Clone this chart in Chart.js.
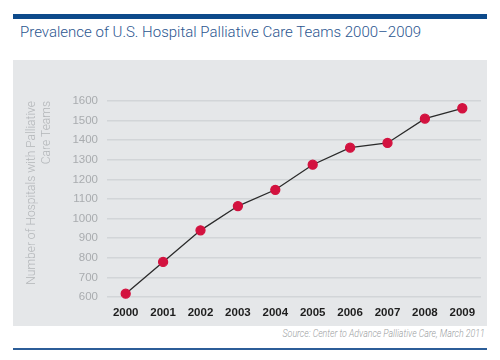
<!DOCTYPE html>
<html>
<head>
<meta charset="utf-8">
<script src="https://cdn.jsdelivr.net/npm/chart.js@4"></script>
<style>
    body { margin: 0; width: 500px; height: 360px; background: #fff; position: relative; overflow: hidden; }
    .topBar { position: absolute; left: 13px; top: 14px; width: 474px; height: 5px; background: #0d4a8b; }
    .title { position: absolute; left: 20px; top: 23px; font: 300 15px Roboto, sans-serif; color: #2b5690; white-space: nowrap; }
    .panel { position: absolute; left: 13px; top: 60px; width: 474px; height: 266px; background: #e5e7e9; }
    .source { position: absolute; right: 15px; top: 327px; font: italic 300 11px Roboto, sans-serif; color: #9a9da0; white-space: nowrap; transform: scaleX(0.8); transform-origin: right center; }
    .bottomLine { position: absolute; left: 13px; top: 348px; width: 474px; height: 2px; background: #2c5d98; }
</style>
</head>
<body>
<div class="topBar"></div>
<div class="title">Prevalence of U.S. Hospital Palliative Care Teams 2000–2009</div>
<div class="panel"><canvas id="prevalenceChart" width="474" height="266"></canvas></div>
<div class="source">Source: Center to Advance Palliative Care, March 2011</div>
<div class="bottomLine"></div>

<script>
const years = ['2000', '2001', '2002', '2003', '2004', '2005', '2006', '2007', '2008', '2009'];
const hospitals = [617, 779, 940, 1064, 1147, 1275, 1362, 1386, 1510, 1563];
const yTicks = [600, 700, 800, 900, 1000, 1100, 1200, 1300, 1400, 1500, 1600];
const yTitle = ['Number of Hospitals with Palliative', 'Care Teams'];

const tickFont = '"Liberation Sans", sans-serif';

const ctx = document.getElementById('prevalenceChart').getContext('2d');
new Chart(ctx, {
    type: 'line',
    data: {
        labels: years,
        datasets: [{
            data: hospitals,
            borderColor: '#2a2a2a',
            borderWidth: 1.3,
            pointBackgroundColor: '#d3123f',
            pointBorderColor: '#d3123f',
            pointRadius: 4.5,
            tension: 0,
            clip: false
        }]
    },
    options: {
        responsive: false,
        animation: false,
        layout: { padding: { top: 41, right: 6, left: 0, bottom: 0 } },
        plugins: { legend: { display: false }, tooltip: { enabled: false } },
        scales: {
            x: {
                offset: true,
                grid: { display: false, drawTicks: false },
                border: { display: false },
                ticks: { color: '#1e1e1e', padding: 9, maxRotation: 0, font: { family: tickFont, size: 11.5, weight: 'bold' } },
                afterFit: scale => { scale.height = 29; }
            },
            y: {
                min: 600,
                max: 1600,
                afterBuildTicks: scale => { scale.ticks = yTicks.map(v => ({ value: v })); },
                grid: { color: '#d2d5d8', lineWidth: 1.5, drawTicks: false },
                border: { display: false },
                ticks: {
                    color: '#a9acaf',
                    padding: 9,
                    font: { family: tickFont, size: 11.5 },
                    callback: v => String(v)
                },
                title: {
                    display: true,
                    text: yTitle,
                    align: 'end',
                    color: '#b3b6b9',
                    font: { family: 'Roboto, sans-serif', size: 12, weight: '300' },
                    padding: { top: 12, bottom: 0 }
                },
                afterFit: scale => { scale.width = 94; }
            }
        }
    }
});
</script>
</body>
</html>
